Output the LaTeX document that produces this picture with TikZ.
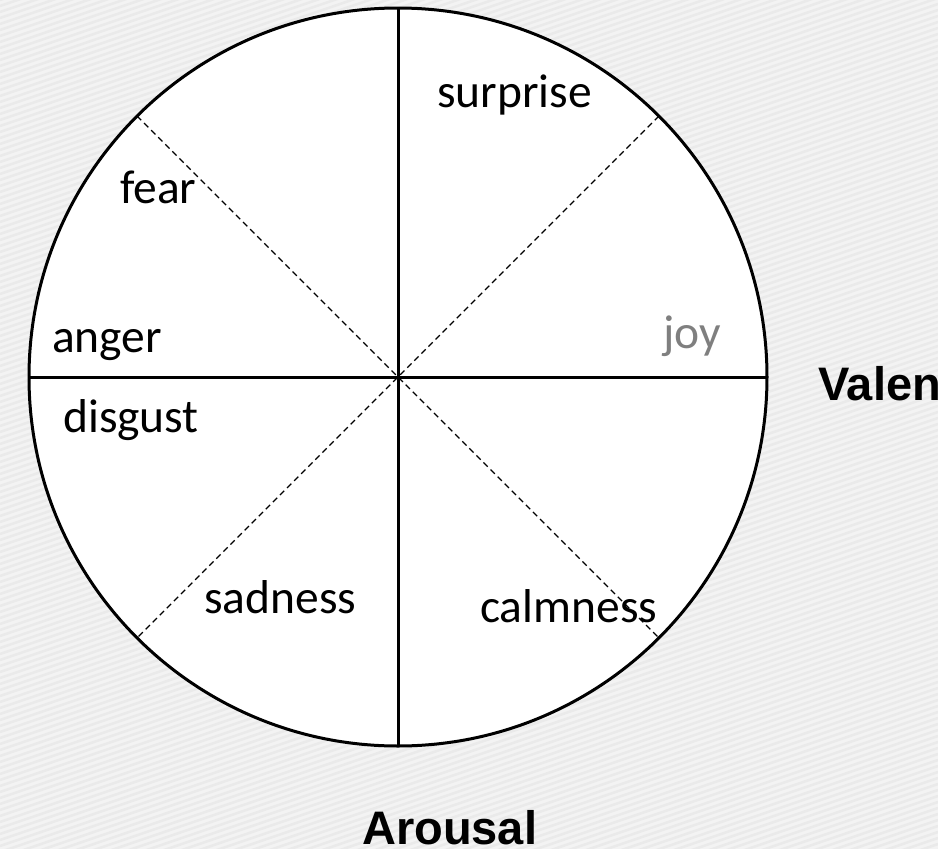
\documentclass[tikz,border=0pt]{standalone}
\usepackage{fontspec}
\setmainfont{Carlito}
\newfontfamily\axisfont{Liberation Sans}
\definecolor{bgA}{HTML}{F3F3F3}
\definecolor{bgB}{HTML}{EAEAEA}
\definecolor{joygray}{HTML}{7F7F7F}
\begin{document}
\begin{tikzpicture}[x=1pt,y=-1pt,
  axisline/.style={line width=3pt,black},
  diagline/.style={line width=1.3pt,black,dash pattern=on 6pt off 4pt},
  emo/.style={font=\fontsize{47.5}{50}\selectfont,inner sep=0pt,anchor=base west},
  axislabel/.style={font=\axisfont\bfseries\fontsize{47}{50}\selectfont,inner sep=0pt,anchor=base west}]
\useasboundingbox (0,0) rectangle (938,849);
\fill[bgA] (0,0) rectangle (938,849);
\begin{scope}
\clip (0,0) rectangle (938,849);
\foreach \k in {-80,...,220} {
  \draw[bgB,line width=2.5pt] (0,{\k*6}) -- (938,{\k*6-320});
}
\end{scope}
\coordinate (c) at (398,377);
\fill[white] (c) circle[radius=369];
\draw[line width=3pt] (c) circle[radius=369];
\coordinate (n) at (398,8);
\coordinate (s) at (398,746);
\coordinate (w) at (29,377);
\coordinate (e) at (767,377);
\draw[axisline] (n) -- (s);
\draw[axisline] (w) -- (e);
\draw[diagline] (c) ++(-261,-261) coordinate (ul) -- ++(522,522) coordinate (lr);
\draw[diagline] (c) ++(261,-261) coordinate (ur) -- ++(-522,522) coordinate (ll);
\node[emo] (surprise) at (437,107) {surprise};
\node[emo] (fear) at (120,203) {fear};
\node[emo] (anger) at (52,352) {anger};
\node[emo,text=joygray] (joy) at (663,348) {joy};
\node[emo] (disgust) at (63,432) {disgust};
\node[emo] (sadness) at (204,613) {sadness};
\node[emo] (calmness) at (480,622) {calmness};
\node[axislabel] (valence) at (818,400) {Valence};
\node[axislabel] (arousal) at (362,844) {Arousal};
\end{tikzpicture}
\end{document}
